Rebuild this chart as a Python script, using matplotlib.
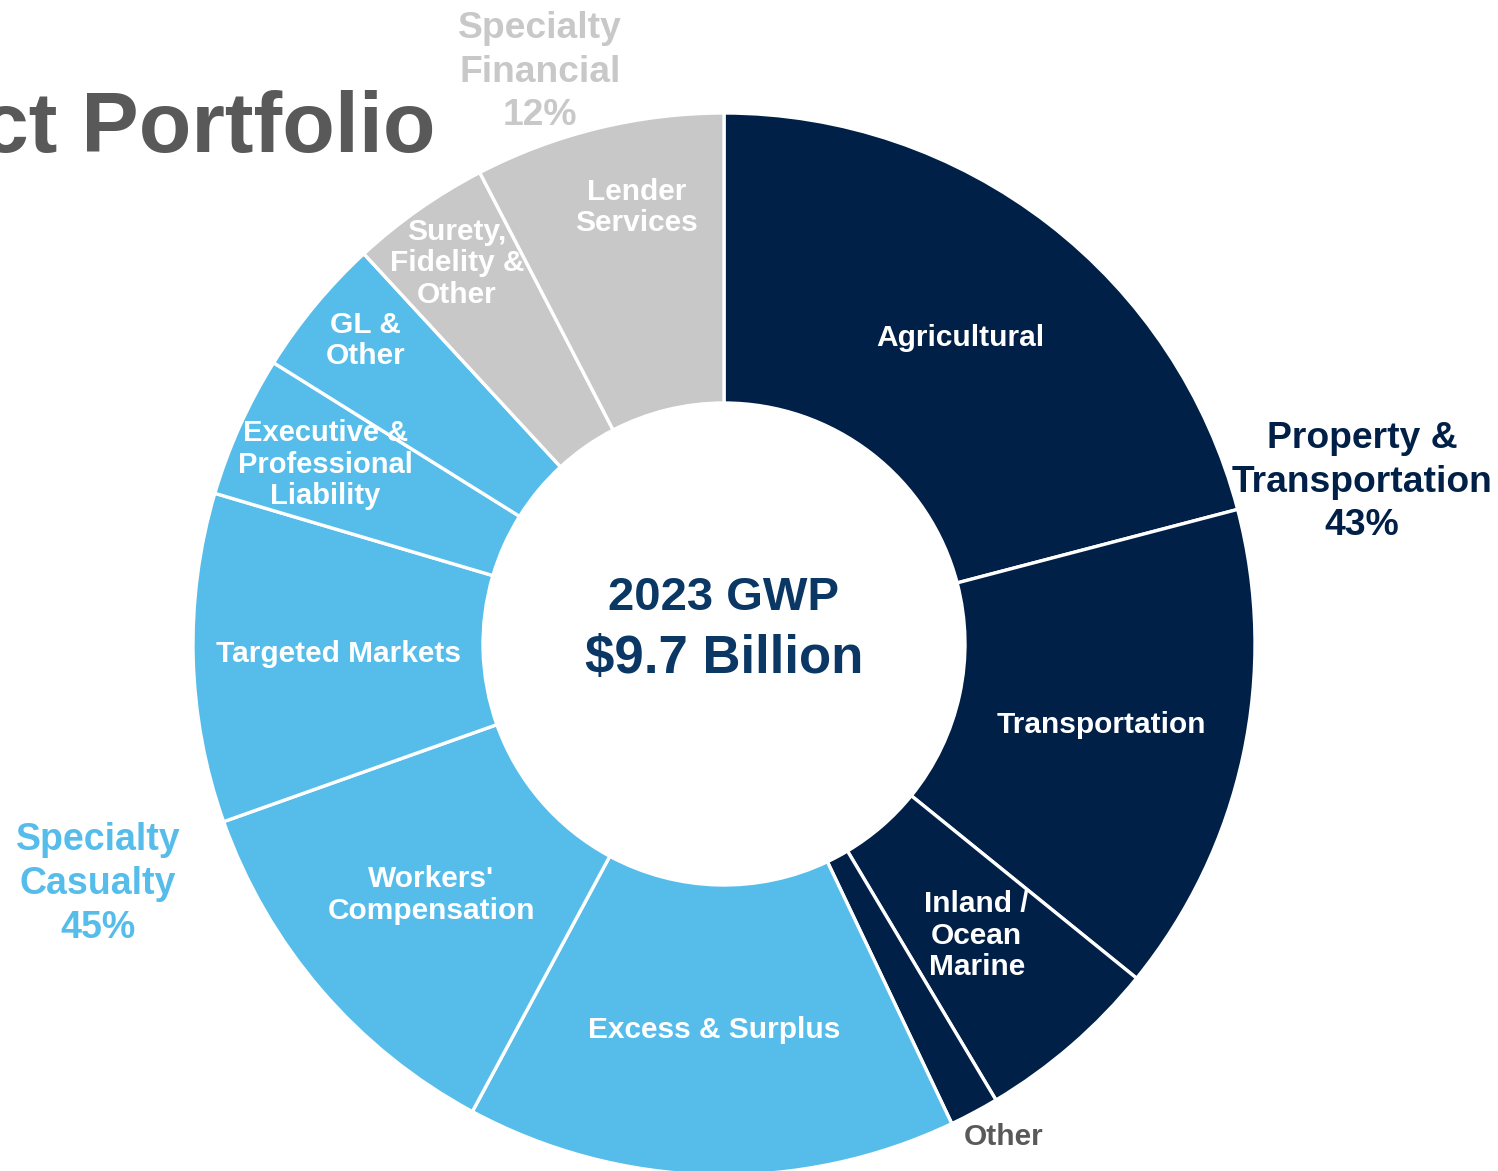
import matplotlib
matplotlib.use("Agg")
import matplotlib.pyplot as plt
import numpy as np

plt.rcParams['font.family'] = ['Liberation Sans', 'DejaVu Sans']
plt.rcParams['font.weight'] = 'bold'

# ---- data ----
segments = ["Agricultural", "Transportation", "Inland /\nOcean\nMarine", "Other",
            "Excess & Surplus", "Workers'\nCompensation", "Targeted Markets",
            "Executive &\nProfessional\nLiability", "GL &\nOther",
            "Surety,\nFidelity &\nOther", "Lender\nServices"]
shares = [20.9, 14.9, 5.6, 1.5, 14.9, 11.7, 10.0, 4.3, 4.25, 4.25, 7.6]
groups = ["P&T", "P&T", "P&T", "P&T", "SC", "SC", "SC", "SC", "SC", "SF", "SF"]
group_labels = {"P&T": "Property &\nTransportation\n43%",
                "SC": "Specialty\nCasualty\n45%",
                "SF": "Specialty\nFinancial\n12%"}
center_line1 = "2023 GWP"
center_line2 = "$9.7 Billion"
title = "Product Portfolio"

# ---- style ----
NAVY = "#012047"
BLUE = "#56BDEB"
GRAY = "#C8C8C8"
DARKGRAY = "#595959"
CENTER = "#0A3764"
group_colors = {"P&T": NAVY, "SC": BLUE, "SF": GRAY}

W, H = 1498, 1171
fig = plt.figure(figsize=(W / 100, H / 100), dpi=100)
ax = fig.add_axes([0, 0, 1, 1])

cx, cy = 724, H - 644
R, r_in = 531, 241
colors = [group_colors[g] for g in groups]
wedges, _ = ax.pie(shares, colors=colors, startangle=90, counterclock=False,
                   center=(cx, cy), radius=R,
                   wedgeprops=dict(width=R - r_in, edgecolor="white", linewidth=2.4))
ax.set_xlim(0, W)
ax.set_ylim(0, H)
ax.set_aspect('equal')
ax.axis('off')

# label radius per segment (px from center); "Other" is placed outside
label_r = [386, 386, 386, None, 386, 386, 386, 437, 470, 465, 445]
label_dang = [0, 0, 0, 0, 0, 0, 0, 0, -0.6, 0, -2.4]   # small angular nudges (deg)
label_size = [21.5, 21.5, 21.5, 21.5, 21.5, 21.5, 21.5, 21, 21.5, 21.5, 21.5]
for w, lab, rr, da, fs in zip(wedges, segments, label_r, label_dang, label_size):
    if rr is None:
        ax.text(1004, H - 1137, lab, ha='center', va='center', fontsize=fs,
                color=DARKGRAY, fontweight='bold')
        continue
    mid = np.deg2rad((w.theta1 + w.theta2) / 2 + da)
    x = cx + rr * np.cos(mid)
    y = cy + rr * np.sin(mid)
    ax.text(x, y, lab, ha='center', va='center', fontsize=fs, color="white",
            fontweight='bold', linespacing=1.17)

# group labels
ax.text(1362, H - 482, group_labels["P&T"], ha='center', va='center',
        fontsize=26.8, color=NAVY, fontweight='bold', linespacing=1.3)
ax.text(98, H - 884, group_labels["SC"], ha='center', va='center',
        fontsize=27, color=BLUE, fontweight='bold', linespacing=1.3)
ax.text(540, H - 72, group_labels["SF"], ha='center', va='center',
        fontsize=26.8, color=GRAY, fontweight='bold', linespacing=1.3)

# center text
ax.text(cx, H - 598, center_line1, ha='center', va='center', fontsize=34,
        color=CENTER, fontweight='bold')
ax.text(cx, H - 659, center_line2, ha='center', va='center', fontsize=38,
        color=CENTER, fontweight='bold')

# title (clipped at the left edge)
ax.text(435, H - 152, title, ha='right', va='baseline', fontsize=62,
        color=DARKGRAY, fontweight='bold', clip_on=False)

fig.savefig("out.png", dpi=100, facecolor="white")
